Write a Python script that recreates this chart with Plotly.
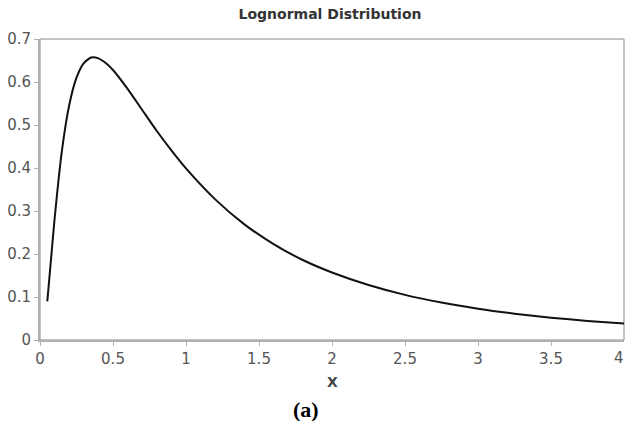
import plotly.graph_objects as go

x_vals = [0.05, 0.075, 0.1, 0.15, 0.2, 0.25, 0.3, 0.35, 0.4, 0.45, 0.5, 0.6, 0.7, 0.8, 0.9,
          1.0, 1.2, 1.4, 1.6, 1.8, 2.0, 2.25, 2.5, 2.75, 3.0, 3.25, 3.5, 3.75, 4.0]
y_vals = [0.090, 0.186, 0.282, 0.440, 0.546, 0.610, 0.644, 0.657, 0.655, 0.644, 0.628, 0.584,
          0.535, 0.486, 0.441, 0.399, 0.327, 0.269, 0.223, 0.186, 0.157, 0.128, 0.105, 0.087,
          0.0727, 0.0613, 0.052, 0.0444, 0.0381]
x_ticks = [0, 0.5, 1, 1.5, 2, 2.5, 3, 3.5, 4]
x_tick_labels = ["0", "0.5", "1", "1.5", "2", "2.5", "3", "3.5", "4"]
y_ticks = [0, 0.1, 0.2, 0.3, 0.4, 0.5, 0.6, 0.7]
y_tick_labels = ["0", "0.1", "0.2", "0.3", "0.4", "0.5", "0.6", "0.7"]

FONT = "DejaVu Sans, sans-serif"
fig = go.Figure()
fig.add_trace(go.Scatter(x=x_vals, y=y_vals, mode="lines",
                         line=dict(color="#111111", width=2, shape="spline", smoothing=0.6),
                         showlegend=False, hoverinfo="skip"))

W, H = 627, 421
PW, PH = 584, 301
annots = [
    dict(text="<b>X</b>", xref="paper", yref="paper", x=(332 - 40) / PW, y=-42 / PH,
         xanchor="center", yanchor="middle", showarrow=False,
         font=dict(size=14, color="#444444", family=FONT)),
    dict(text="<b>(a)</b>", xref="paper", yref="paper", x=(306 - 40) / PW, y=-69 / PH,
         xanchor="center", yanchor="middle", showarrow=False,
         font=dict(size=22, color="#000000", family="Liberation Serif, Times New Roman, serif")),
]
# last x tick label, kept inside the page at the right edge
annots.append(dict(text=x_tick_labels[-1], xref="x", yref="paper", x=x_ticks[-1], y=-18 / PH,
                   xanchor="right", xshift=2, yanchor="middle", showarrow=False,
                   font=dict(size=15, color="#555555", family=FONT)))

fig.update_layout(
    width=W, height=H,
    margin=dict(l=40, r=3, t=39, b=81),
    paper_bgcolor="white", plot_bgcolor="white",
    font=dict(family=FONT, color="#555555", size=15),
    title=dict(text="<b>Lognormal Distribution</b>", x=330 / W, xanchor="center",
               y=1 - 14 / H, yanchor="middle", yref="container",
               font=dict(size=14, color="#333333", family=FONT)),
    xaxis=dict(range=[0, 4], tickvals=x_ticks[:-1], ticktext=x_tick_labels[:-1], showgrid=False,
               zeroline=False, showline=True, linecolor="#b0b0b0", linewidth=2,
               ticks="outside", ticklen=4, tickcolor="#b0b0b0", tickwidth=1, fixedrange=True),
    yaxis=dict(range=[0, 0.7], tickvals=y_ticks, ticktext=y_tick_labels, showgrid=False,
               zeroline=False, showline=True, linecolor="#b0b0b0", linewidth=2,
               ticks="outside", ticklen=4, tickcolor="#b0b0b0", tickwidth=1, fixedrange=True),
    shapes=[dict(type="rect", xref="paper", yref="paper", x0=0, x1=1, y0=0, y1=1,
                 line=dict(color="#8a8a8a", width=1), layer="below")],
    annotations=annots,
)

fig.write_html("out.html")
